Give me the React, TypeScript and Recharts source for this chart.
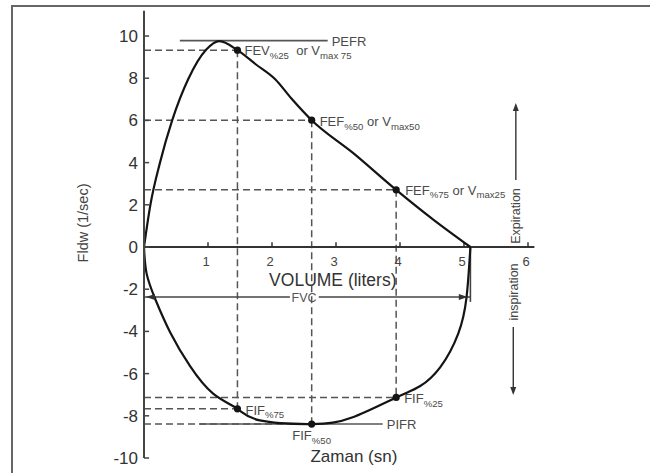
import React from 'react';
import { ComposedChart, Line, XAxis, YAxis, ReferenceLine, ReferenceDot } from 'recharts';

// flow-volume loop
const expiration = [
  { v: 0, f: 0 }, { v: 0.1, f: 2.0 }, { v: 0.25, f: 4.0 }, { v: 0.44, f: 6.0 },
  { v: 0.69, f: 7.95 }, { v: 0.97, f: 9.35 }, { v: 1.18, f: 9.76 }, { v: 1.46, f: 9.33 },
  { v: 1.75, f: 8.65 }, { v: 2.05, f: 7.95 }, { v: 2.3, f: 7.05 }, { v: 2.62, f: 6.01 },
  { v: 3.27, f: 4.45 }, { v: 3.94, f: 2.71 }, { v: 4.52, f: 1.3 }, { v: 5.1, f: 0 },
];
const inspiration = [
  { v: 0, f: 0 }, { v: 0.04, f: -1.25 }, { v: 0.18, f: -2.5 }, { v: 0.41, f: -4.05 },
  { v: 0.72, f: -5.65 }, { v: 1.08, f: -6.95 }, { v: 1.46, f: -7.67 }, { v: 1.81, f: -8.22 },
  { v: 2.62, f: -8.39 }, { v: 3.25, f: -8.08 }, { v: 3.94, f: -7.13 }, { v: 4.31, f: -6.6 },
  { v: 4.63, f: -5.69 }, { v: 4.91, f: -4.1 }, { v: 5.04, f: -2.37 }, { v: 5.1, f: 0 },
];
const xTicks = [1, 2, 3, 4, 5, 6];
const yTicks = [-10, -8, -6, -4, -2, 0, 2, 4, 6, 8, 10];

const PEFR = 9.78;
const PIFR = -8.39;
const FVC_Y = -2.37;
const FVC = 5.1;

type Part = { t: string; sub?: boolean };
// marked points: volume, flow, label pieces, label offset
const points: { v: number; f: number; parts: Part[]; dx: number; dy: number; anchor?: string }[] = [
  { v: 1.46, f: 9.33, parts: [{ t: 'FEV' }, { t: '%25', sub: true }, { t: '  or V' }, { t: 'max 75', sub: true }], dx: 7, dy: 5 },
  { v: 2.62, f: 6.01, parts: [{ t: 'FEF' }, { t: '%50', sub: true }, { t: ' or V' }, { t: 'max50', sub: true }], dx: 8, dy: 6 },
  { v: 3.94, f: 2.71, parts: [{ t: 'FEF' }, { t: '%75', sub: true }, { t: ' or V' }, { t: 'max25', sub: true }], dx: 9, dy: 5 },
  { v: 1.46, f: -7.67, parts: [{ t: 'FIF' }, { t: '%75', sub: true }], dx: 8, dy: 6 },
  { v: 2.62, f: -8.39, parts: [{ t: 'FIF' }, { t: '%50', sub: true }], dx: 0, dy: 16, anchor: 'middle' },
  { v: 3.94, f: -7.13, parts: [{ t: 'FIF' }, { t: '%25', sub: true }], dx: 8, dy: 6 },
];

const FONT = '"Liberation Sans", Arial, Helvetica, sans-serif';
const INK = '#141414';
const GREY = '#4a4a4a';
const DASH = '#555';

function RichText({ x, y, parts, size = 13, anchor = 'start', fill = GREY }: any) {
  let shifted = false;
  return (
    <text x={x} y={y} fontSize={size} fill={fill} fontFamily={FONT} textAnchor={anchor}>
      {parts.map((p: Part, i: number) => {
        let dy = 0;
        if (p.sub && !shifted) { dy = 3.5; shifted = true; }
        else if (!p.sub && shifted) { dy = -3.5; shifted = false; }
        return (
          <tspan key={i} dy={dy} fontSize={p.sub ? size * 0.74 : size} style={{ whiteSpace: 'pre' }}>{p.t}</tspan>
        );
      })}
    </text>
  );
}

function seg(x1: number, y1: number, x2: number, y2: number) {
  return [{ x: x1, y: y1 }, { x: x2, y: y2 }];
}

const dashed = [
  seg(0, 9.33, 1.46, 9.33), seg(0, 6.01, 2.62, 6.01), seg(0, 2.71, 3.94, 2.71),
  seg(0, -7.13, 3.94, -7.13), seg(0, -7.67, 1.46, -7.67), seg(0, -8.39, 2.62, -8.39),
  seg(1.46, 9.33, 1.46, -7.67), seg(2.62, 6.01, 2.62, -8.39), seg(3.94, 2.71, 3.94, -7.13),
];

export default function App() {
  return (
    <div style={{ position: 'absolute', left: 0, top: 0, width: 650, height: 473, background: '#fff', overflow: 'hidden' }}>
      <div style={{ position: 'absolute', left: 11, top: 5, width: 660, height: 490, borderTop: '2px solid #666', borderLeft: '2px solid #666' }} />
      <div style={{ position: 'absolute', left: 0, top: 0 }}>
        <ComposedChart width={650} height={473} margin={{ top: 10.7, right: 115.6, bottom: 15, left: 84 }}>
          <XAxis type="number" dataKey="v" domain={[0, 6.1]} hide allowDataOverflow />
          <YAxis
            type="number" domain={[-10, 11.2]} ticks={yTicks} interval={0} allowDataOverflow
            width={60} tickLine={false} tickSize={4} tickMargin={2}
            axisLine={{ stroke: '#444', strokeWidth: 2 }}
            tick={({ x, y, payload }: any) => (
              <text x={x} y={y} dy={6} textAnchor="end" fontSize={17} fill="#333" fontFamily={FONT}>{payload.value}</text>
            )}
          />

          {dashed.map((s, i) => (
            <ReferenceLine key={'d' + i} segment={s} stroke={DASH} strokeWidth={1.5} strokeDasharray="7 4" />
          ))}

          {/* x axis drawn through zero */}
          <ReferenceLine segment={seg(0, 0, 6.1, 0)} stroke="#333" strokeWidth={2} />
          {xTicks.map(t => (
            <ReferenceLine key={'xt' + t} segment={seg(t, 0, t, 0.22)} stroke="#333" strokeWidth={1.5} />
          ))}
          {xTicks.map(t => (
            <ReferenceDot key={'xl' + t} x={t} y={0} r={0} ifOverflow="visible"
              shape={({ cx, cy }: any) => (
                <text x={cx - 2} y={cy + 19} textAnchor="middle" fontSize={13} fill="#444" fontFamily={FONT}>{t}</text>
              )} />
          ))}
          {yTicks.map(t => (
            <ReferenceLine key={'yt' + t} segment={seg(0, t, 0.08, t)} stroke="#444" strokeWidth={1.5} />
          ))}

          {/* PEFR / PIFR */}
          <ReferenceLine segment={seg(0.56, PEFR, 2.87, PEFR)} stroke="#555" strokeWidth={1.6} />
          <ReferenceLine segment={seg(0.87, PIFR, 3.73, PIFR)} stroke="#555" strokeWidth={1.6} />
          <ReferenceDot x={2.87} y={PEFR} r={0} shape={({ cx, cy }: any) => <RichText x={cx + 4} y={cy + 5} parts={[{ t: 'PEFR' }]} />} />
          <ReferenceDot x={3.73} y={PIFR} r={0} shape={({ cx, cy }: any) => <RichText x={cx + 4} y={cy + 5} parts={[{ t: 'PIFR' }]} />} />

          {/* FVC bar */}
          <ReferenceLine segment={seg(0, FVC_Y, 2.28, FVC_Y)} stroke="#444" strokeWidth={1.6} />
          <ReferenceLine segment={seg(2.73, FVC_Y, FVC, FVC_Y)} stroke="#444" strokeWidth={1.6} />
          <ReferenceLine segment={seg(FVC, 0, FVC, -2.6)} stroke="#444" strokeWidth={1.6} />
          <ReferenceDot x={0.03} y={FVC_Y} r={0} shape={({ cx, cy }: any) => <path d={`M${cx},${cy} l9,-3 l0,6 z`} fill="#333" />} />
          <ReferenceDot x={5.06} y={FVC_Y} r={0} shape={({ cx, cy }: any) => <path d={`M${cx},${cy} l-9,-3 l0,6 z`} fill="#333" />} />
          <ReferenceDot x={2.5} y={FVC_Y} r={0} shape={({ cx, cy }: any) => <RichText x={cx} y={cy + 4.5} anchor="middle" size={12.5} fill="#555" parts={[{ t: 'FVC' }]} />} />

          <Line data={expiration} dataKey="f" type="monotone" dot={false} stroke={INK} strokeWidth={2.2} isAnimationActive={false} />
          <Line data={inspiration} dataKey="f" type="natural" dot={false} stroke={INK} strokeWidth={2.2} isAnimationActive={false} />

          {points.map((p, i) => (
            <ReferenceDot key={'p' + i} x={p.v} y={p.f} r={3.5}
              shape={({ cx, cy }: any) => (
                <g>
                  <circle cx={cx} cy={cy} r={3.6} fill={INK} />
                  <RichText x={cx + p.dx} y={cy + p.dy} parts={p.parts} anchor={p.anchor || 'start'} />
                </g>
              )} />
          ))}

          {/* direction arrows */}
          <ReferenceLine segment={seg(5.81, 3.18, 5.81, 6.7)} stroke="#333" strokeWidth={1.4} />
          <ReferenceDot x={5.81} y={6.82} r={0} shape={({ cx, cy }: any) => <path d={`M${cx},${cy} l-3,8 l6,0 z`} fill="#333" />} />
          <ReferenceDot x={5.81} y={1.47} r={0} shape={({ cx, cy }: any) => (
            <text transform={`translate(${cx},${cy}) rotate(-90)`} dy={4.5} textAnchor="middle" fontSize={12.5} fill="#444" fontFamily={FONT}>Expiration</text>
          )} />
          <ReferenceLine segment={seg(5.77, -3.79, 5.77, -6.9)} stroke="#333" strokeWidth={1.4} />
          <ReferenceDot x={5.77} y={-7.01} r={0} shape={({ cx, cy }: any) => <path d={`M${cx},${cy} l-3,-8 l6,0 z`} fill="#333" />} />
          <ReferenceDot x={5.77} y={-2.13} r={0} shape={({ cx, cy }: any) => (
            <text transform={`translate(${cx},${cy}) rotate(-90)`} dy={4.5} textAnchor="middle" fontSize={12.5} fill="#444" fontFamily={FONT}>inspiration</text>
          )} />

          {/* axis titles */}
          <ReferenceDot x={2.95} y={-1.84} r={0} shape={({ cx, cy }: any) => (
            <text x={cx} y={cy} textAnchor="middle" fontSize={17.5} fill="#333" fontFamily={FONT}>VOLUME (liters)</text>
          )} />
          <ReferenceDot x={3.28} y={-10.19} r={0} ifOverflow="visible" shape={({ cx, cy }: any) => (
            <text x={cx} y={cy} textAnchor="middle" fontSize={17} fill="#333" fontFamily={FONT}>Zaman (sn)</text>
          )} />
          <ReferenceDot x={-0.95} y={1.14} r={0} ifOverflow="visible" shape={({ cx, cy }: any) => (
            <text transform={`translate(${cx},${cy}) rotate(-90)`} dy={5} textAnchor="middle" fontSize={14.5} fill="#444" fontFamily={FONT}>Fldw (1/sec)</text>
          )} />
        </ComposedChart>
      </div>
    </div>
  );
}
